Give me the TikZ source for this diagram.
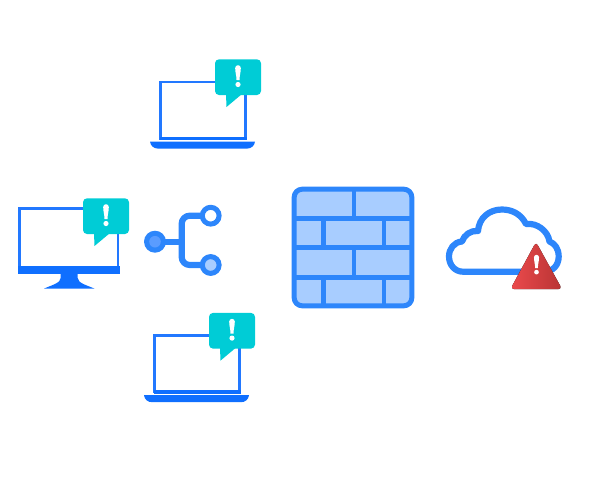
\documentclass[tikz,border=0pt]{standalone}
\usetikzlibrary{shadings}
\definecolor{dev}{HTML}{0F6FFF}
\definecolor{devlite}{HTML}{2278FF}
\definecolor{teal}{HTML}{00CCD6}
\definecolor{net}{HTML}{2D86FB}
\definecolor{lite}{HTML}{A8CDFF}
\definecolor{mid}{HTML}{5A9CFF}
\definecolor{redL}{HTML}{EC4A4C}
\definecolor{redR}{HTML}{B83434}
\tikzset{
  devline/.style={draw=devlite,line width=2.3pt,fill=white},
  devfill/.style={fill=dev},
  netline/.style={draw=net,line width=6.2pt,line cap=round,line join=round},
  bubble/.style={fill=teal},
  bang/.style={fill=white}
}
\newcommand{\exclaim}[3]{% x, top y, scale
  \fill[bang] (#1-2.8*#3,#2+2*#3) to[out=-90,in=90] (#1-1.5*#3,#2+14*#3) -- (#1+1.5*#3,#2+14*#3) to[out=90,in=-90] (#1+2.8*#3,#2+2*#3) arc[start angle=0,end angle=-180,radius=2.8*#3] -- cycle;
  \fill[bang] (#1,#2+18.5*#3) circle[radius=2.6*#3];
}
\newcommand{\alertbubble}{%
  \fill[bubble,rounded corners=4pt] (215,59.3) rectangle (261,95);
  \fill[bubble] (226,94) -- (226.5,107) -- (242,94) -- cycle;
  \exclaim{238}{66}{1}
}
\newcommand{\laptop}{%
  \draw[devline] (160.6,81.8) rectangle (245.4,138.5);
  \fill[devfill] (159.5,136.5) rectangle (246.5,140.3);
  \fill[devfill] (150,141.6) -- (255,141.6) .. controls (254.5,146) and (251,148.6) .. (247,148.6) -- (158,148.6) .. controls (154,148.6) and (150.5,146) .. (150,141.6) -- cycle;
}
\begin{document}
\begin{tikzpicture}[x=1pt,y=-1pt]
\useasboundingbox (0,0) rectangle (600,480);
% top laptop
\laptop
\alertbubble
% bottom laptop
\begin{scope}[shift={(-6,253.6)}]
\laptop
\alertbubble
\end{scope}
% monitor
\draw[devline] (19.5,208.5) rectangle (118.3,268);
\fill[devfill] (18.3,265.5) rectangle (119.6,274.2);
\fill[devfill] (60.7,274) -- (77.7,274) -- (77.7,278) .. controls (78,283) and (86,285) .. (94.5,288.6) -- (44,288.6) .. controls (52,285) and (60.5,283) .. (60.7,278) -- cycle;
\begin{scope}[shift={(-132,139)}]
\alertbubble
\end{scope}
% branching icon
\draw[netline] (160,241.7) -- (181.7,241.7);
\draw[netline,rounded corners=8pt] (205,215.7) -- (181.7,215.7) -- (181.7,265) -- (205,265);
\fill[net] (155,241.7) circle[radius=11];
\fill[mid] (155,241.7) circle[radius=5.8];
\draw[net,line width=5pt,fill=white] (210.7,215.7) circle[radius=8.4];
\draw[net,line width=5pt,fill=lite] (210.7,265) circle[radius=8.4];
% firewall
\draw[draw=net,line width=5pt,fill=lite,rounded corners=8pt] (294.2,189.2) rectangle (411.8,305.8);
\draw[net,line width=4.8pt]
  (294,218.5) -- (412,218.5)
  (294,247.7) -- (412,247.7)
  (294,277.2) -- (412,277.2)
  (354,189) -- (354,218.5)
  (354,247.7) -- (354,277.2)
  (323.7,218.5) -- (323.7,247.7)
  (384,218.5) -- (384,247.7)
  (323.7,277.2) -- (323.7,306)
  (384,277.2) -- (384,306);
% cloud
\draw[netline,fill=white] (463,271.7) -- (544,271.7)
  .. controls (553,271.7) and (558.7,265) .. (558.7,256.5)
  .. controls (558.7,249) and (555,243.5) .. (549.5,241.5)
  .. controls (548,231) and (537,222.5) .. (526,224)
  .. controls (521,214) and (512,209.5) .. (502,209.5)
  .. controls (489,209.5) and (479,218) .. (478,231)
  .. controls (471,230) and (464,235) .. (462,241.5)
  .. controls (454,242) and (449,249) .. (449,256.5)
  .. controls (449,265) and (455,271.7) .. (463,271.7) -- cycle;
% warning triangle
\fill[left color=redL,right color=redR,rounded corners=3.5pt] (536,242) -- (562,289) -- (510.5,289) -- cycle;
\exclaim{536.5}{255.5}{0.9}
\end{tikzpicture}
\end{document}
